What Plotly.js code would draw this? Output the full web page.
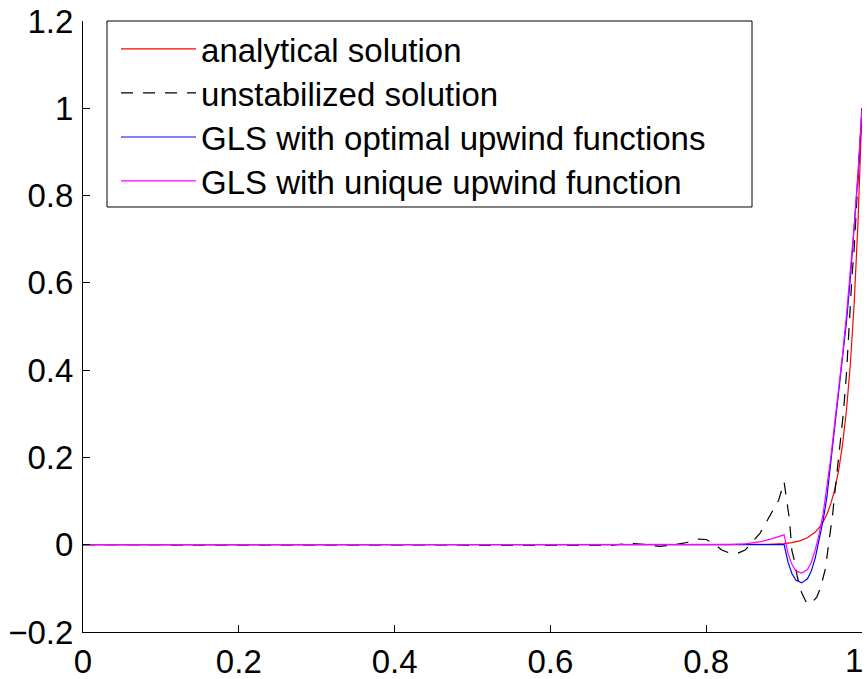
<!DOCTYPE html>
<html>
<head>
<meta charset="utf-8">
<script src="https://cdn.plot.ly/plotly-3.0.1.min.js"></script>
<style>html,body{margin:0;padding:0;background:#fff;}#plot{width:868px;height:679px;}</style>
</head>
<body>
<div id="plot"></div>
<script>
// Analytical solution
const xAnalytical = [0, 0.5, 0.8, 0.85, 0.88, 0.9, 0.91, 0.92, 0.93, 0.94, 0.945, 0.95, 0.955, 0.96, 0.965, 0.97, 0.975, 0.98, 0.985, 0.99, 0.995, 1];
const yAnalytical = [0, 0, 0, 0.0001, 0.0008, 0.0027, 0.0049, 0.0089, 0.016, 0.029, 0.039, 0.052, 0.070, 0.094, 0.127, 0.170, 0.229, 0.307, 0.413, 0.554, 0.745, 1];

// Unstabilized solution
const xUnstab = [0, 0.6, 0.65, 0.68, 0.7, 0.72, 0.74, 0.76, 0.775, 0.79, 0.8, 0.81, 0.82, 0.83, 0.84, 0.85, 0.86, 0.869, 0.875, 0.884, 0.893, 0.9, 0.903, 0.907, 0.91, 0.914, 0.917, 0.922, 0.929, 0.932, 0.936, 0.942, 0.947, 0.953, 0.959, 0.962, 0.965, 0.968, 0.972, 0.976, 0.98, 0.984, 0.987, 0.99, 0.993, 0.996, 1];
const yUnstab = [0, 0, 0.0005, -0.001, 0.003, 0.001, -0.004, 0.0, 0.005, 0.013, 0.012, 0.002, -0.012, -0.019, -0.02, -0.012, 0.008, 0.026, 0.045, 0.075, 0.102, 0.144, 0.106, 0.056, -0.013, -0.043, -0.074, -0.108, -0.134, -0.136, -0.132, -0.12, -0.097, -0.055, 0.026, 0.064, 0.117, 0.163, 0.228, 0.30, 0.39, 0.52, 0.61, 0.68, 0.77, 0.875, 1];

// GLS with optimal upwind functions
const xOptimal = [0, 0.9, 0.905, 0.91, 0.915, 0.9225, 0.93, 0.935, 0.94, 0.945, 0.95, 0.955, 0.96, 0.965, 0.97, 0.975, 0.98, 0.985, 0.99, 0.995, 1];
const yOptimal = [0, 0, -0.04, -0.066, -0.081, -0.0875, -0.078, -0.06, -0.03, 0.01, 0.055, 0.11, 0.19, 0.27, 0.34, 0.42, 0.51, 0.61, 0.72, 0.85, 1];

// GLS with unique upwind function
const xUnique = [0, 0.83, 0.85, 0.87, 0.885, 0.9, 0.905, 0.91, 0.915, 0.9225, 0.93, 0.935, 0.94, 0.945, 0.95, 0.955, 0.96, 0.965, 0.97, 0.975, 0.98, 0.985, 0.99, 0.995, 1];
const yUnique = [0, 0, 0.002, 0.007, 0.014, 0.0225, -0.02, -0.045, -0.06, -0.065, -0.057, -0.04, -0.012, 0.025, 0.07, 0.13, 0.2, 0.28, 0.355, 0.435, 0.525, 0.62, 0.73, 0.855, 1];

const seriesNames = ['analytical solution', 'unstabilized solution', 'GLS with optimal upwind functions', 'GLS with unique upwind function'];
const xTickVals = [0, 0.2, 0.4, 0.6, 0.8, 1];
const xTickText = ['0', '0.2', '0.4', '0.6', '0.8', '1'];
const yTickVals = [-0.2, 0, 0.2, 0.4, 0.6, 0.8, 1, 1.2];

const FONT = 'Liberation Sans, Arial, Helvetica, sans-serif';

const traces = [
  {x: xAnalytical, y: yAnalytical, name: seriesNames[0], mode: 'lines', legend: 'legend', line: {color: '#ff0000', width: 1.2}},
  {x: xUnstab, y: yUnstab, name: seriesNames[1], mode: 'lines', legend: 'legend2', line: {color: '#000000', width: 1.2, dash: '12px,10px'}},
  {x: xOptimal, y: yOptimal, name: seriesNames[2], mode: 'lines', legend: 'legend3', line: {color: '#0000ff', width: 1.2}},
  {x: xUnique, y: yUnique, name: seriesNames[3], mode: 'lines', legend: 'legend4', line: {color: '#ff00ff', width: 1.2}}
];

function legendAt(yc) {
  return {
    x: 0.0424, y: yc, xanchor: 'left', yanchor: 'middle',
    bgcolor: 'rgba(0,0,0,0)', borderwidth: 0,
    font: {family: FONT, size: 33, color: '#000000'},
    itemwidth: 75
  };
}

// last x tick label drawn as annotation so it stays inside the page edge
const lastIdx = xTickVals.length - 1;
const shownTickText = xTickText.map((t, i) => i === lastIdx ? '' : t);

const layout = {
  width: 868, height: 679,
  margin: {l: 83, r: 6, t: 21, b: 47, pad: 0},
  paper_bgcolor: '#ffffff', plot_bgcolor: '#ffffff',
  font: {family: FONT, size: 33, color: '#000000'},
  showlegend: true,
  legend: legendAt(0.9542),
  legend2: legendAt(0.8822),
  legend3: legendAt(0.8101),
  legend4: legendAt(0.7381),
  shapes: [{
    type: 'rect', xref: 'paper', yref: 'paper', layer: 'above',
    x0: 0.0308, x1: 0.8588, y0: 0.6956, y1: 1.0,
    line: {color: '#000000', width: 1}, fillcolor: '#ffffff'
  }],
  annotations: [{
    x: xTickVals[lastIdx], xref: 'x', y: 0, yref: 'paper',
    text: xTickText[lastIdx], showarrow: false,
    xanchor: 'right', yanchor: 'middle', xshift: 3, yshift: -28,
    height: 26, valign: 'middle',
    font: {family: FONT, size: 33, color: '#000'}
  }],
  xaxis: {
    range: [0, 1], tickvals: xTickVals, ticktext: shownTickText, ticks: 'inside', ticklen: 7, tickcolor: '#000',
    showline: true, linecolor: '#000', linewidth: 1, mirror: false, showgrid: false, zeroline: false,
    tickfont: {family: FONT, size: 33, color: '#000'}, ticklabelstandoff: 0
  },
  yaxis: {
    range: [-0.2, 1.2], tickvals: yTickVals, ticks: 'inside', ticklen: 7, tickcolor: '#000',
    showline: true, linecolor: '#000', linewidth: 1, mirror: false, showgrid: false, zeroline: false,
    tickfont: {family: FONT, size: 33, color: '#000'}, ticklabelstandoff: 2, ticklabeloverflow: 'allow'
  }
};

Plotly.newPlot('plot', traces, layout, {displayModeBar: false, staticPlot: true});
</script>
</body>
</html>
